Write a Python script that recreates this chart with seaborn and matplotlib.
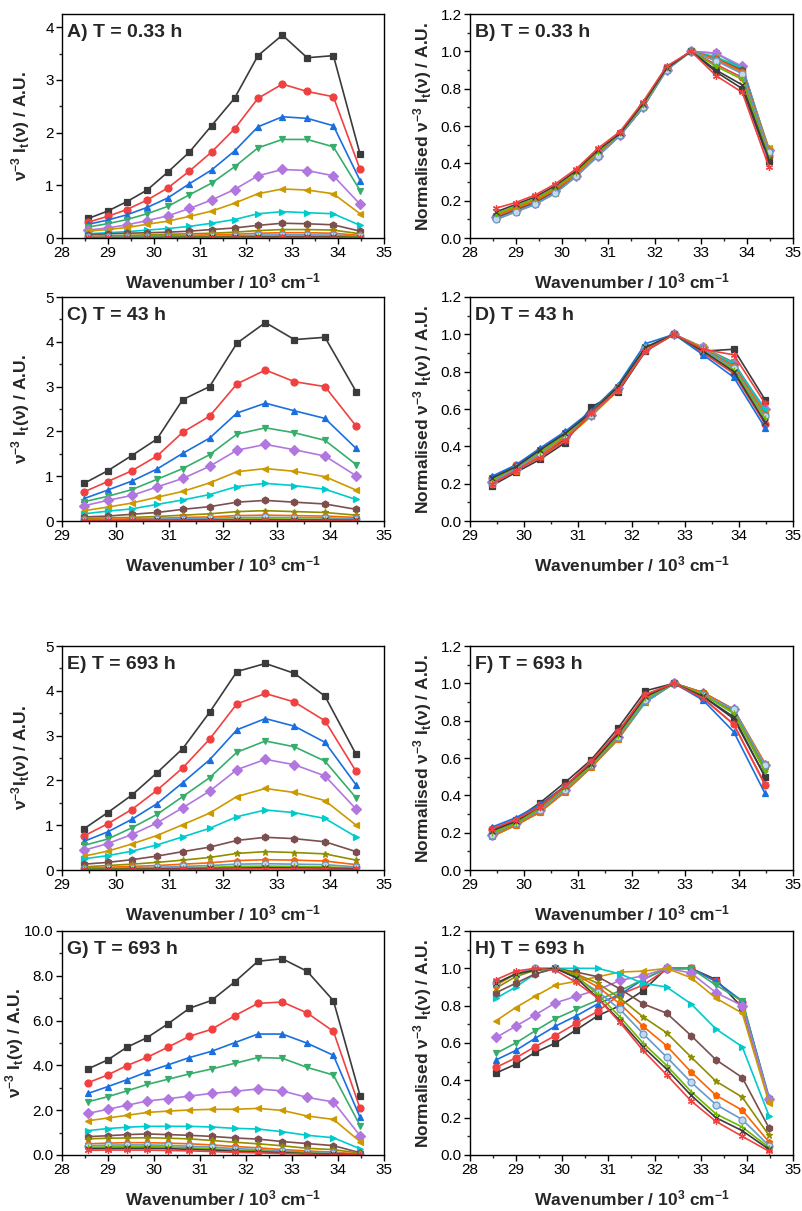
import numpy as np
import pandas as pd
import matplotlib
matplotlib.use("Agg")
import matplotlib.pyplot as plt
from matplotlib.ticker import MultipleLocator, FormatStrFormatter
import seaborn as sns

# wavenumbers (10^3 cm-1), 350 nm ... 290 nm
wn13 = [28.57, 28.99, 29.41, 29.85, 30.30, 30.77, 31.25, 31.75, 32.26, 32.79, 33.33, 33.90, 34.48]
wn11 = wn13[2:]

colors = ["#3b3b3b", "#F14040", "#1A6FDF", "#37AD6B", "#B177DE", "#CC9900", "#00CBCC",
          "#7D4E4E", "#8E8E00", "#FB6501", "#6699CC", "#6FB802", "#3b3b3b", "#F14040"]
markers = ["s", "o", "^", "v", "D", "<", ">", "h", "*", "p", "o", "+", "x", (6, 2, 0)]

# A) T = 0.33 h, raw spectra
a_vals = [
    [0.37, 0.51, 0.69, 0.91, 1.25, 1.63, 2.13, 2.65, 3.46, 3.85, 3.42, 3.46, 1.59],
    [0.30, 0.41, 0.54, 0.72, 0.95, 1.27, 1.63, 2.07, 2.65, 2.92, 2.78, 2.68, 1.30],
    [0.26, 0.34, 0.44, 0.58, 0.76, 1.03, 1.29, 1.65, 2.11, 2.30, 2.27, 2.13, 1.09],
    [0.21, 0.27, 0.35, 0.46, 0.60, 0.82, 1.04, 1.35, 1.71, 1.87, 1.87, 1.73, 0.90],
    [0.15, 0.19, 0.25, 0.33, 0.42, 0.56, 0.72, 0.92, 1.18, 1.30, 1.28, 1.18, 0.64],
    [0.13, 0.16, 0.20, 0.26, 0.32, 0.41, 0.51, 0.66, 0.84, 0.93, 0.91, 0.84, 0.46],
    [0.08, 0.10, 0.12, 0.15, 0.18, 0.22, 0.28, 0.35, 0.46, 0.50, 0.48, 0.46, 0.24],
    [0.06, 0.08, 0.09, 0.10, 0.11, 0.13, 0.16, 0.19, 0.24, 0.28, 0.27, 0.25, 0.13],
    [0.03, 0.04, 0.05, 0.06, 0.07, 0.08, 0.09, 0.11, 0.14, 0.16, 0.16, 0.15, 0.08],
    [0.02, 0.03, 0.03, 0.04, 0.04, 0.05, 0.06, 0.07, 0.09, 0.10, 0.10, 0.09, 0.05],
    [0.01, 0.015, 0.02, 0.02, 0.025, 0.03, 0.035, 0.04, 0.055, 0.06, 0.06, 0.055, 0.03],
    [0.005, 0.007, 0.009, 0.011, 0.014, 0.017, 0.02, 0.025, 0.032, 0.035, 0.034, 0.031, 0.016],
    [0.003, 0.004, 0.005, 0.006, 0.008, 0.01, 0.012, 0.014, 0.018, 0.02, 0.019, 0.017, 0.008],
    [0.001, 0.002, 0.002, 0.003, 0.004, 0.005, 0.006, 0.007, 0.009, 0.01, 0.009, 0.008, 0.004],
]

# B) T = 0.33 h, normalised
b_vals = [
    [0.11, 0.15, 0.19, 0.25, 0.33, 0.44, 0.55, 0.70, 0.91, 1.0, 0.89, 0.80, 0.41],
    [0.12, 0.16, 0.20, 0.26, 0.34, 0.45, 0.56, 0.71, 0.91, 1.0, 0.93, 0.86, 0.44],
    [0.12, 0.16, 0.20, 0.26, 0.34, 0.45, 0.56, 0.71, 0.91, 1.0, 0.96, 0.92, 0.46],
    [0.12, 0.16, 0.20, 0.26, 0.34, 0.45, 0.55, 0.71, 0.91, 1.0, 0.99, 0.91, 0.47],
    [0.11, 0.15, 0.19, 0.25, 0.33, 0.44, 0.55, 0.70, 0.90, 1.0, 0.99, 0.92, 0.47],
    [0.10, 0.14, 0.18, 0.24, 0.33, 0.44, 0.55, 0.70, 0.90, 1.0, 0.97, 0.90, 0.48],
    [0.11, 0.15, 0.19, 0.25, 0.33, 0.44, 0.55, 0.70, 0.91, 1.0, 0.97, 0.91, 0.47],
    [0.11, 0.15, 0.19, 0.25, 0.34, 0.45, 0.55, 0.70, 0.91, 1.0, 0.96, 0.90, 0.46],
    [0.12, 0.16, 0.20, 0.26, 0.34, 0.45, 0.56, 0.71, 0.91, 1.0, 0.95, 0.89, 0.45],
    [0.12, 0.16, 0.20, 0.26, 0.34, 0.45, 0.56, 0.71, 0.91, 1.0, 0.96, 0.89, 0.47],
    [0.10, 0.14, 0.18, 0.24, 0.33, 0.44, 0.55, 0.70, 0.90, 1.0, 0.95, 0.88, 0.46],
    [0.13, 0.17, 0.21, 0.27, 0.35, 0.46, 0.56, 0.71, 0.91, 1.0, 0.92, 0.85, 0.43],
    [0.14, 0.18, 0.22, 0.28, 0.36, 0.47, 0.56, 0.72, 0.91, 1.0, 0.90, 0.82, 0.42],
    [0.16, 0.19, 0.23, 0.29, 0.37, 0.48, 0.57, 0.73, 0.92, 1.0, 0.87, 0.78, 0.38],
]

# C) T = 43 h, raw spectra
c_vals = [
    [0.84, 1.12, 1.46, 1.83, 2.71, 3.00, 3.97, 4.43, 4.05, 4.10, 2.89],
    [0.65, 0.88, 1.12, 1.45, 1.98, 2.34, 3.06, 3.37, 3.11, 3.00, 2.12],
    [0.50, 0.69, 0.89, 1.16, 1.51, 1.85, 2.41, 2.63, 2.46, 2.29, 1.62],
    [0.43, 0.55, 0.70, 0.93, 1.17, 1.48, 1.94, 2.08, 1.97, 1.80, 1.26],
    [0.34, 0.46, 0.57, 0.76, 0.95, 1.22, 1.58, 1.71, 1.59, 1.45, 1.01],
    [0.23, 0.31, 0.40, 0.53, 0.66, 0.85, 1.10, 1.17, 1.11, 0.99, 0.69],
    [0.16, 0.22, 0.27, 0.37, 0.47, 0.59, 0.77, 0.84, 0.79, 0.71, 0.48],
    [0.09, 0.11, 0.15, 0.19, 0.26, 0.32, 0.42, 0.46, 0.42, 0.38, 0.26],
    [0.06, 0.07, 0.08, 0.10, 0.13, 0.16, 0.21, 0.23, 0.21, 0.19, 0.13],
    [0.03, 0.04, 0.05, 0.06, 0.08, 0.09, 0.12, 0.13, 0.12, 0.11, 0.08],
    [0.02, 0.025, 0.03, 0.04, 0.05, 0.06, 0.075, 0.08, 0.075, 0.07, 0.05],
    [0.01, 0.015, 0.02, 0.02, 0.025, 0.03, 0.04, 0.045, 0.04, 0.035, 0.025],
    [0.006, 0.008, 0.01, 0.012, 0.015, 0.018, 0.022, 0.025, 0.022, 0.02, 0.014],
    [0.003, 0.004, 0.005, 0.006, 0.007, 0.009, 0.011, 0.012, 0.011, 0.01, 0.007],
]

# D) T = 43 h, normalised
d_vals = [
    [0.19, 0.26, 0.33, 0.42, 0.61, 0.69, 0.91, 1.0, 0.91, 0.92, 0.65],
    [0.23, 0.30, 0.38, 0.47, 0.58, 0.72, 0.93, 1.0, 0.90, 0.79, 0.52],
    [0.24, 0.30, 0.39, 0.48, 0.59, 0.73, 0.95, 1.0, 0.89, 0.77, 0.50],
    [0.21, 0.28, 0.35, 0.44, 0.57, 0.71, 0.92, 1.0, 0.93, 0.85, 0.59],
    [0.21, 0.28, 0.36, 0.45, 0.57, 0.71, 0.92, 1.0, 0.93, 0.84, 0.60],
    [0.20, 0.27, 0.35, 0.44, 0.56, 0.70, 0.92, 1.0, 0.93, 0.83, 0.58],
    [0.21, 0.28, 0.36, 0.45, 0.57, 0.71, 0.93, 1.0, 0.92, 0.84, 0.60],
    [0.20, 0.27, 0.35, 0.44, 0.57, 0.70, 0.92, 1.0, 0.92, 0.83, 0.57],
    [0.21, 0.28, 0.36, 0.45, 0.57, 0.71, 0.92, 1.0, 0.92, 0.82, 0.56],
    [0.20, 0.27, 0.35, 0.45, 0.57, 0.70, 0.92, 1.0, 0.92, 0.83, 0.57],
    [0.21, 0.28, 0.36, 0.46, 0.57, 0.71, 0.93, 1.0, 0.92, 0.82, 0.56],
    [0.22, 0.29, 0.37, 0.46, 0.58, 0.72, 0.93, 1.0, 0.91, 0.81, 0.55],
    [0.23, 0.29, 0.38, 0.47, 0.58, 0.72, 0.93, 1.0, 0.91, 0.80, 0.53],
    [0.20, 0.27, 0.34, 0.43, 0.58, 0.70, 0.91, 1.0, 0.92, 0.89, 0.63],
]

# E) T = 693 h, raw spectra
e_vals = [
    [0.92, 1.28, 1.67, 2.17, 2.71, 3.52, 4.43, 4.61, 4.39, 3.88, 2.58],
    [0.76, 1.03, 1.35, 1.78, 2.28, 2.92, 3.71, 3.94, 3.75, 3.33, 2.20],
    [0.64, 0.85, 1.13, 1.48, 1.95, 2.46, 3.13, 3.38, 3.21, 2.85, 1.90],
    [0.55, 0.69, 0.94, 1.24, 1.64, 2.06, 2.63, 2.88, 2.75, 2.43, 1.61],
    [0.44, 0.59, 0.79, 1.05, 1.39, 1.76, 2.24, 2.47, 2.35, 2.10, 1.36],
    [0.31, 0.42, 0.58, 0.77, 1.01, 1.27, 1.64, 1.82, 1.73, 1.55, 1.00],
    [0.25, 0.32, 0.42, 0.56, 0.74, 0.93, 1.19, 1.34, 1.28, 1.15, 0.74],
    [0.13, 0.17, 0.23, 0.31, 0.41, 0.51, 0.66, 0.73, 0.70, 0.63, 0.41],
    [0.07, 0.10, 0.13, 0.17, 0.22, 0.28, 0.37, 0.41, 0.39, 0.36, 0.22],
    [0.05, 0.06, 0.08, 0.10, 0.13, 0.16, 0.21, 0.23, 0.22, 0.20, 0.12],
    [0.03, 0.04, 0.05, 0.06, 0.08, 0.10, 0.13, 0.14, 0.13, 0.12, 0.07],
    [0.02, 0.025, 0.03, 0.04, 0.05, 0.06, 0.08, 0.085, 0.08, 0.07, 0.045],
    [0.01, 0.013, 0.017, 0.022, 0.027, 0.034, 0.044, 0.05, 0.047, 0.04, 0.025],
    [0.005, 0.006, 0.008, 0.011, 0.014, 0.017, 0.022, 0.025, 0.023, 0.02, 0.012],
]

# F) T = 693 h, normalised
f_vals = [
    [0.21, 0.27, 0.36, 0.47, 0.59, 0.76, 0.96, 1.0, 0.93, 0.81, 0.50],
    [0.22, 0.27, 0.35, 0.45, 0.58, 0.74, 0.94, 1.0, 0.92, 0.78, 0.455],
    [0.23, 0.28, 0.35, 0.45, 0.57, 0.72, 0.90, 1.0, 0.91, 0.74, 0.41],
    [0.20, 0.25, 0.33, 0.44, 0.56, 0.72, 0.93, 1.0, 0.94, 0.84, 0.53],
    [0.19, 0.25, 0.32, 0.43, 0.56, 0.71, 0.91, 1.0, 0.95, 0.86, 0.56],
    [0.18, 0.24, 0.31, 0.42, 0.55, 0.70, 0.90, 1.0, 0.95, 0.86, 0.57],
    [0.18, 0.24, 0.31, 0.42, 0.55, 0.70, 0.90, 1.0, 0.95, 0.85, 0.55],
    [0.19, 0.25, 0.32, 0.43, 0.56, 0.71, 0.91, 1.0, 0.95, 0.86, 0.56],
    [0.19, 0.25, 0.32, 0.43, 0.56, 0.71, 0.92, 1.0, 0.94, 0.85, 0.54],
    [0.18, 0.24, 0.31, 0.42, 0.55, 0.70, 0.91, 1.0, 0.95, 0.86, 0.57],
    [0.19, 0.25, 0.32, 0.43, 0.56, 0.71, 0.91, 1.0, 0.94, 0.86, 0.56],
    [0.20, 0.25, 0.33, 0.44, 0.56, 0.72, 0.92, 1.0, 0.94, 0.84, 0.53],
    [0.21, 0.26, 0.34, 0.45, 0.57, 0.73, 0.93, 1.0, 0.93, 0.82, 0.50],
    [0.22, 0.27, 0.34, 0.45, 0.58, 0.74, 0.94, 1.0, 0.92, 0.78, 0.46],
]

# G) T = 693 h, raw spectra (second set)
g_vals = [
    [3.85, 4.24, 4.81, 5.24, 5.85, 6.55, 6.90, 7.72, 8.65, 8.76, 8.20, 6.89, 2.65],
    [3.23, 3.57, 3.99, 4.36, 4.81, 5.30, 5.61, 6.21, 6.77, 6.83, 6.34, 5.52, 2.08],
    [2.75, 3.05, 3.36, 3.71, 4.02, 4.35, 4.63, 5.01, 5.40, 5.40, 4.99, 4.45, 1.68],
    [2.38, 2.60, 2.86, 3.15, 3.38, 3.62, 3.84, 4.09, 4.35, 4.32, 3.91, 3.57, 1.31],
    [1.86, 2.04, 2.22, 2.41, 2.51, 2.63, 2.75, 2.84, 2.95, 2.86, 2.57, 2.37, 0.86],
    [1.53, 1.65, 1.77, 1.90, 1.96, 2.01, 2.04, 2.04, 2.08, 1.99, 1.74, 1.59, 0.60],
    [1.09, 1.18, 1.24, 1.28, 1.28, 1.28, 1.25, 1.19, 1.16, 1.04, 0.88, 0.77, 0.28],
    [0.82, 0.86, 0.91, 0.94, 0.91, 0.88, 0.83, 0.76, 0.71, 0.60, 0.51, 0.42, 0.10],
    [0.72, 0.75, 0.76, 0.77, 0.75, 0.72, 0.65, 0.57, 0.50, 0.41, 0.30, 0.24, 0.08],
    [0.50, 0.53, 0.55, 0.55, 0.53, 0.50, 0.45, 0.38, 0.32, 0.245, 0.18, 0.13, 0.04],
    [0.41, 0.44, 0.45, 0.45, 0.43, 0.39, 0.35, 0.29, 0.24, 0.18, 0.12, 0.085, 0.02],
    [0.34, 0.36, 0.37, 0.37, 0.355, 0.32, 0.27, 0.22, 0.18, 0.13, 0.08, 0.055, 0.015],
    [0.28, 0.29, 0.30, 0.30, 0.285, 0.25, 0.22, 0.17, 0.14, 0.10, 0.06, 0.04, 0.01],
    [0.21, 0.22, 0.22, 0.22, 0.20, 0.185, 0.155, 0.12, 0.095, 0.065, 0.04, 0.02, 0.005],
]

# H) T = 693 h, normalised (second set)
h_vals = [
    [0.44, 0.486, 0.55, 0.60, 0.67, 0.746, 0.80, 0.88, 1.0, 1.0, 0.94, 0.79, 0.30],
    [0.47, 0.52, 0.58, 0.64, 0.705, 0.77, 0.86, 0.91, 0.995, 1.0, 0.93, 0.82, 0.30],
    [0.51, 0.56, 0.625, 0.69, 0.745, 0.81, 0.86, 0.94, 1.0, 1.0, 0.93, 0.825, 0.31],
    [0.545, 0.60, 0.665, 0.73, 0.78, 0.83, 0.88, 0.94, 1.0, 1.0, 0.91, 0.825, 0.30],
    [0.63, 0.69, 0.75, 0.815, 0.85, 0.885, 0.935, 0.96, 1.0, 0.975, 0.87, 0.80, 0.30],
    [0.72, 0.79, 0.85, 0.91, 0.93, 0.955, 0.98, 0.985, 1.0, 0.95, 0.84, 0.76, 0.28],
    [0.84, 0.90, 0.97, 1.0, 1.0, 1.0, 0.97, 0.92, 0.90, 0.81, 0.675, 0.58, 0.21],
    [0.87, 0.92, 0.97, 1.0, 0.98, 0.955, 0.89, 0.81, 0.76, 0.64, 0.51, 0.415, 0.145],
    [0.895, 0.955, 0.99, 1.0, 0.97, 0.92, 0.84, 0.74, 0.655, 0.525, 0.395, 0.31, 0.105],
    [0.91, 0.97, 1.0, 1.0, 0.965, 0.90, 0.81, 0.69, 0.585, 0.445, 0.32, 0.24, 0.07],
    [0.92, 0.97, 1.0, 1.0, 0.95, 0.875, 0.78, 0.65, 0.525, 0.39, 0.27, 0.19, 0.05],
    [0.92, 0.97, 0.99, 1.0, 0.96, 0.86, 0.74, 0.60, 0.48, 0.34, 0.22, 0.15, 0.04],
    [0.92, 0.97, 0.99, 1.0, 0.95, 0.84, 0.72, 0.58, 0.46, 0.32, 0.20, 0.13, 0.03],
    [0.94, 0.985, 1.0, 0.99, 0.925, 0.84, 0.71, 0.56, 0.43, 0.29, 0.18, 0.10, 0.02],
]

raw_label = "ν$^{-3}$ I$_t$(ν) / A.U."
raw_label_e = "ν$^{-3}$I$_t$(ν) / A.U."
norm_label = "Normalised ν$^{-3}$ I$_t$(ν) / A.U."
x_label = "Wavenumber / 10$^3$ cm$^{-1}$"

panels = [
    ("A) T = 0.33 h", wn13, a_vals, (28, 35), 4.25, 1, "%d", raw_label),
    ("B) T = 0.33 h", wn13, b_vals, (28, 35), 1.2, 0.2, "%.1f", norm_label),
    ("C) T = 43 h", wn11, c_vals, (29, 35), 5, 1, "%d", raw_label),
    ("D) T = 43 h", wn11, d_vals, (29, 35), 1.2, 0.2, "%.1f", norm_label),
    ("E) T = 693 h", wn11, e_vals, (29, 35), 5, 1, "%d", raw_label_e),
    ("F) T = 693 h", wn11, f_vals, (29, 35), 1.2, 0.2, "%.1f", norm_label),
    ("G) T = 693 h", wn13, g_vals, (28, 35), 10, 2, "%.1f", raw_label),
    ("H) T = 693 h", wn13, h_vals, (28, 35), 1.2, 0.2, "%.1f", norm_label),
]

sns.set_style("ticks")
plt.rcParams["font.family"] = ["Liberation Sans", "DejaVu Sans"]
plt.rcParams["mathtext.fontset"] = "custom"
plt.rcParams["mathtext.rm"] = "Liberation Sans:bold"
plt.rcParams["mathtext.it"] = "Liberation Sans:bold"
plt.rcParams["mathtext.bf"] = "Liberation Sans:bold"
plt.rcParams["mathtext.default"] = "rm"

fig = plt.figure(figsize=(8.02, 12.11), dpi=100)

col_x = [62 / 802, 470 / 802]
col_w = [322 / 802, 323 / 802]
row_top = [14, 297, 646, 931]
row_h = 224

for i, (title, wn, vals, xlim, ytop, ystep, yfmt, ylab) in enumerate(panels):
    r, c = divmod(i, 2)
    y0 = 1 - (row_top[r] + row_h) / 1211
    ax = fig.add_axes([col_x[c], y0, col_w[c], row_h / 1211])

    for k, series in enumerate(vals):
        df = pd.DataFrame({"wn": wn, "val": series})
        fc = "#c5d8ee" if k == 10 else colors[k]
        sns.lineplot(data=df, x="wn", y="val", ax=ax, color=colors[k], lw=1.2,
                     marker=markers[k], markersize=5, markerfacecolor=fc,
                     markeredgecolor=colors[k], markeredgewidth=0.9)

    ax.set_xlim(*xlim)
    ax.set_ylim(0, ytop)
    ax.xaxis.set_major_locator(MultipleLocator(1))
    ax.xaxis.set_minor_locator(MultipleLocator(0.5))
    ax.yaxis.set_major_locator(MultipleLocator(ystep))
    ax.yaxis.set_minor_locator(MultipleLocator(ystep / 2))
    ax.yaxis.set_major_formatter(FormatStrFormatter(yfmt))
    ax.tick_params(which="major", direction="out", length=4, width=1, labelsize=11,
                   pad=2, colors="black")
    ax.tick_params(which="minor", direction="out", length=2.5, width=1)
    for sp in ax.spines.values():
        sp.set_linewidth(1)
        sp.set_color("black")

    ax.set_xlabel(x_label, fontsize=12.5, fontweight="bold")
    ax.set_ylabel(ylab, fontsize=12.5, fontweight="bold")
    ax.xaxis.set_label_coords(0.5, -0.15)
    if c == 1:
        lx = -0.113
    elif yfmt == "%.1f":
        lx = -0.112
    else:
        lx = -0.093
    ax.yaxis.set_label_coords(lx, 0.5)
    ax.text(0.016, 0.955, title, transform=ax.transAxes, ha="left", va="top",
            fontsize=14, fontweight="bold")

fig.savefig("out.png", dpi=100)
